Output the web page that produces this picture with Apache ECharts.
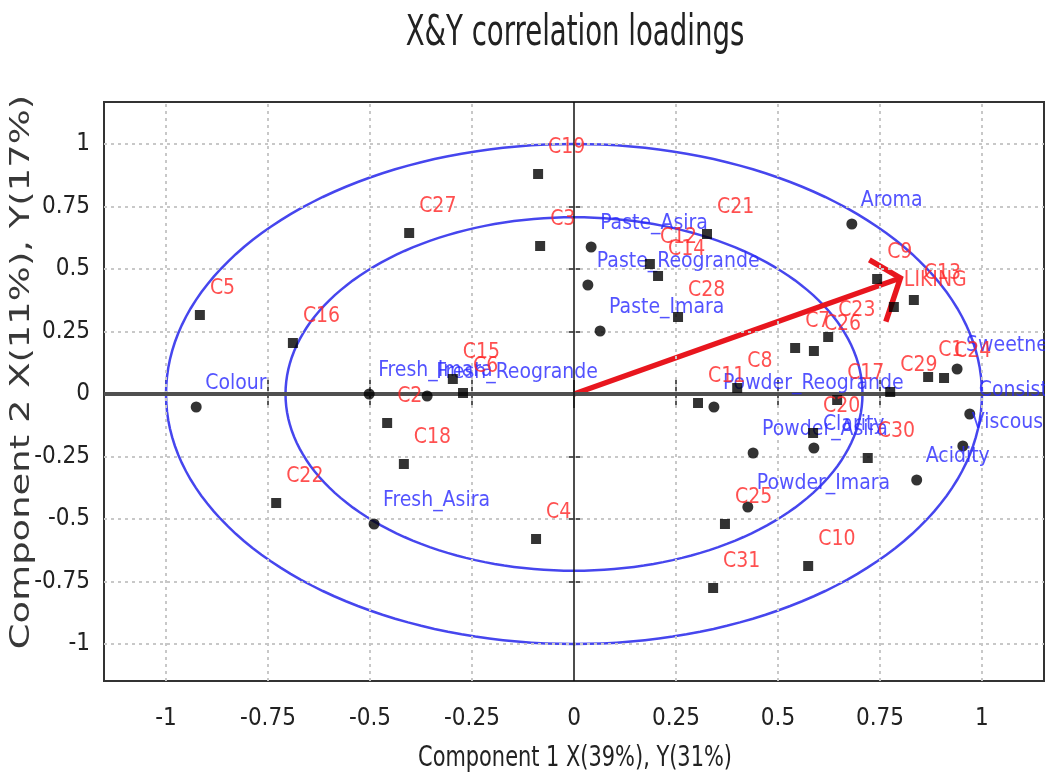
<!DOCTYPE html>
<html>
<head>
<meta charset="utf-8">
<script src="https://cdn.jsdelivr.net/npm/echarts@6/dist/echarts.min.js"></script>
<style>
  html, body { margin: 0; padding: 0; background: #ffffff; }
  #chart { width: 1054px; height: 778px; }
</style>
</head>
<body>
<div id="chart"></div>
<script>
// Y variables: consumer scores C1..C31 and overall LIKING (squares, red labels)
const yVarNames = ['C1','C2','C3','C4','C5','C6','C7','C8','C9','C10',
  'C11','C12','C13','C14','C15','C16','C17','C18','C19','C20',
  'C21','C22','C23','C24','C25','C26','C27','C28','C29','C30','C31','LIKING'];
const yVarComp1 = [0.868,-0.458,-0.083,-0.093,-0.917,-0.272,0.542,0.400,0.743,0.574,
  0.304,0.186,0.833,0.206,-0.297,-0.689,0.645,-0.417,-0.088,0.586,
  0.326,-0.730,0.623,0.907,0.370,0.588,-0.404,0.255,0.775,0.720,0.341,0.784];
const yVarComp2 = [0.068,-0.116,0.592,-0.580,0.316,0.004,0.184,0.024,0.460,-0.688,
  -0.036,0.520,0.376,0.472,0.060,0.204,-0.024,-0.280,0.880,-0.156,
  0.640,-0.436,0.228,0.064,-0.520,0.172,0.644,0.308,0.008,-0.256,-0.776,0.348];

// X variables: samples and sensory attributes (circles, blue labels)
const xVarNames = ['Colour','Fresh_Imara','Fresh_Reogrande','Fresh_Asira',
  'Paste_Asira','Paste_Reogrande','Paste_Imara',
  'Powder_Reogrande','Powder_Asira','Clarity','Powder_Imara',
  'Aroma','Sweetness','Consistency','Viscous','Acidity'];
const xVarComp1 = [-0.926,-0.502,-0.360,-0.490,0.042,0.034,0.064,0.343,0.439,0.588,0.426,0.681,0.939,0.970,0.953,0.840];
const xVarComp2 = [-0.052,0.000,-0.008,-0.520,0.588,0.436,0.252,-0.052,-0.236,-0.216,-0.452,0.680,0.100,-0.080,-0.208,-0.344];

// Axis ticks and labels
const tickValues = [-1,-0.75,-0.5,-0.25,0,0.25,0.5,0.75,1];
const tickLabels = ['-1','-0.75','-0.5','-0.25','0','0.25','0.5','0.75','1'];

// Explained-variance circles (100% and 50%)
const circleRadii = [1, 0.7071];

// Direction of LIKING (arrow from the origin)
const likingArrow = [0.8, 0.464];

const NARROW = "'DejaVu Sans Condensed', 'Liberation Sans Narrow', sans-serif";
const X_MIN = -1.152, X_MAX = 1.152, Y_MIN = -1.148, Y_MAX = 1.168;

const fmt = v => {
  const i = tickValues.findIndex(t => Math.abs(t - v) < 1e-9);
  return i >= 0 ? tickLabels[i] : '';
};

const chart = echarts.init(document.getElementById('chart'), null, { renderer: 'canvas' });

const gridLines = [];
tickValues.filter(v => v !== 0).forEach(v => {
  gridLines.push({ xAxis: v });
  gridLines.push({ yAxis: v });
});
gridLines.push({ yAxis: 0, lineStyle: { color: '#505050', width: 4, type: 'solid' } });
gridLines.push({ xAxis: 0, lineStyle: { color: '#111111', width: 1.5, type: 'solid' } });

const axisCommon = { type: 'value', axisLine: { show: false }, splitLine: { show: false } };

// horizontally narrowed text block (title and axis names)
function narrowText(text, x, y, size, sx, rot, color, family) {
  return {
    type: 'text', x: x, y: y, rotation: rot || 0, scaleX: sx, z: 50, silent: true,
    style: {
      text: text,
      font: size + 'px ' + (family || NARROW),
      fill: color || '#222222',
      textAlign: 'center', textVerticalAlign: 'middle',
      align: 'center', verticalAlign: 'middle'
    }
  };
}

const option = {
  animation: false,
  backgroundColor: '#ffffff',
  grid: {
    left: 104, right: 10, top: 102, bottom: 97,
    show: true, borderColor: '#333333', borderWidth: 2, backgroundColor: 'transparent'
  },
  xAxis: [
    Object.assign({}, axisCommon, {
      min: X_MIN, max: X_MAX, position: 'bottom',
      axisTick: { show: true, customValues: tickValues, inside: false, length: 14, lineStyle: { color: '#222', width: 1.5 } },
      axisLabel: { customValues: tickValues, formatter: fmt, margin: 26, fontSize: 24, fontFamily: NARROW, color: '#222' }
    }),
    Object.assign({}, axisCommon, {
      min: X_MIN, max: X_MAX, position: 'bottom',
      axisTick: { show: true, customValues: tickValues, inside: true, length: 14, lineStyle: { color: '#222', width: 1.5 } },
      axisLabel: { show: false }
    })
  ],
  yAxis: [
    Object.assign({}, axisCommon, {
      min: Y_MIN, max: Y_MAX, position: 'left',
      axisTick: { show: true, customValues: tickValues, inside: false, length: 7, lineStyle: { color: '#222', width: 1.5 } },
      axisLabel: { customValues: tickValues, formatter: fmt, margin: 14, fontSize: 24, fontFamily: NARROW, color: '#222' }
    }),
    Object.assign({}, axisCommon, {
      min: Y_MIN, max: Y_MAX, position: 'left',
      axisTick: { show: true, customValues: tickValues, inside: true, length: 7, lineStyle: { color: '#222', width: 1.5 } },
      axisLabel: { show: false }
    })
  ],
  graphic: [
    narrowText('X&Y correlation loadings', 575, 34, 42, 0.73),
    narrowText('Component 1 X(39%), Y(31%)', 575, 759, 28, 0.83),
    narrowText('Component 2 X(11%), Y(17%)', 22, 372, 26, 1.42, Math.PI / 2, '#383838', "'DejaVu Sans', sans-serif"),
    {
      // keeps long labels inside the plot frame
      type: 'rect', z: 100, silent: true,
      shape: { x: 1045, y: 0, width: 20, height: 778 },
      style: { fill: '#ffffff' }
    }
  ],
  series: [
    {
      type: 'line', data: [], silent: true, z: 1,
      markLine: {
        silent: true, symbol: 'none', label: { show: false },
        lineStyle: { color: '#c8c8c8', width: 2, type: [3, 4] },
        emphasis: { disabled: true },
        data: gridLines
      }
    },
    {
      type: 'custom', coordinateSystem: 'cartesian2d', silent: true, z: 2,
      data: circleRadii.map(r => [r, 0]),
      encode: { x: 0, y: 1 },
      renderItem: (params, api) => {
        const r = api.value(0);
        const pts = [];
        for (let d = 0; d <= 360; d += 2) {
          const t = d * Math.PI / 180;
          pts.push(api.coord([r * Math.cos(t), r * Math.sin(t)]));
        }
        return { type: 'polyline', shape: { points: pts }, style: { stroke: '#4646ee', lineWidth: 2.5, fill: null } };
      }
    },
    {
      type: 'custom', coordinateSystem: 'cartesian2d', silent: true, z: 3,
      data: [[0, 0, likingArrow[0], likingArrow[1]]],
      encode: { x: [0, 2], y: [1, 3] },
      renderItem: (params, api) => {
        const o = api.coord([api.value(0), api.value(1)]);
        const t = api.coord([api.value(2), api.value(3)]);
        const back = Math.atan2(o[1] - t[1], o[0] - t[0]);
        const a1 = back + 50 * Math.PI / 180, a2 = back - 52 * Math.PI / 180;
        const b1 = [t[0] + 36 * Math.cos(a1), t[1] + 36 * Math.sin(a1)];
        const b2 = [t[0] + 46 * Math.cos(a2), t[1] + 46 * Math.sin(a2)];
        const st = { stroke: '#e8161e', lineWidth: 5.5, fill: null, lineJoin: 'miter' };
        return {
          type: 'group',
          children: [
            { type: 'polyline', shape: { points: [o, t] }, style: st },
            { type: 'polyline', shape: { points: [b1, t, b2] }, style: st }
          ]
        };
      }
    },
    {
      name: 'X variables', type: 'scatter', z: 5,
      symbol: 'circle', symbolSize: 11,
      itemStyle: { color: '#000000' },
      emphasis: { disabled: true },
      label: {
        show: true, formatter: '{b}', position: [14.5, -7.5],
        align: 'left', verticalAlign: 'bottom',
        color: '#2828ff', fontSize: 21, fontFamily: NARROW
      },
      data: xVarNames.map((n, i) => ({ name: n, value: [xVarComp1[i], xVarComp2[i]] }))
    },
    {
      name: 'Y variables', type: 'scatter', z: 6,
      symbol: 'rect', symbolSize: 10,
      itemStyle: { color: '#000000' },
      emphasis: { disabled: true },
      label: {
        show: true, formatter: '{b}', position: [15, -11],
        align: 'left', verticalAlign: 'bottom',
        color: '#ff2424', fontSize: 21, fontFamily: NARROW
      },
      data: yVarNames.map((n, i) => ({ name: n, value: [yVarComp1[i], yVarComp2[i]] }))
    }
  ]
};

chart.setOption(option);
</script>
</body>
</html>
